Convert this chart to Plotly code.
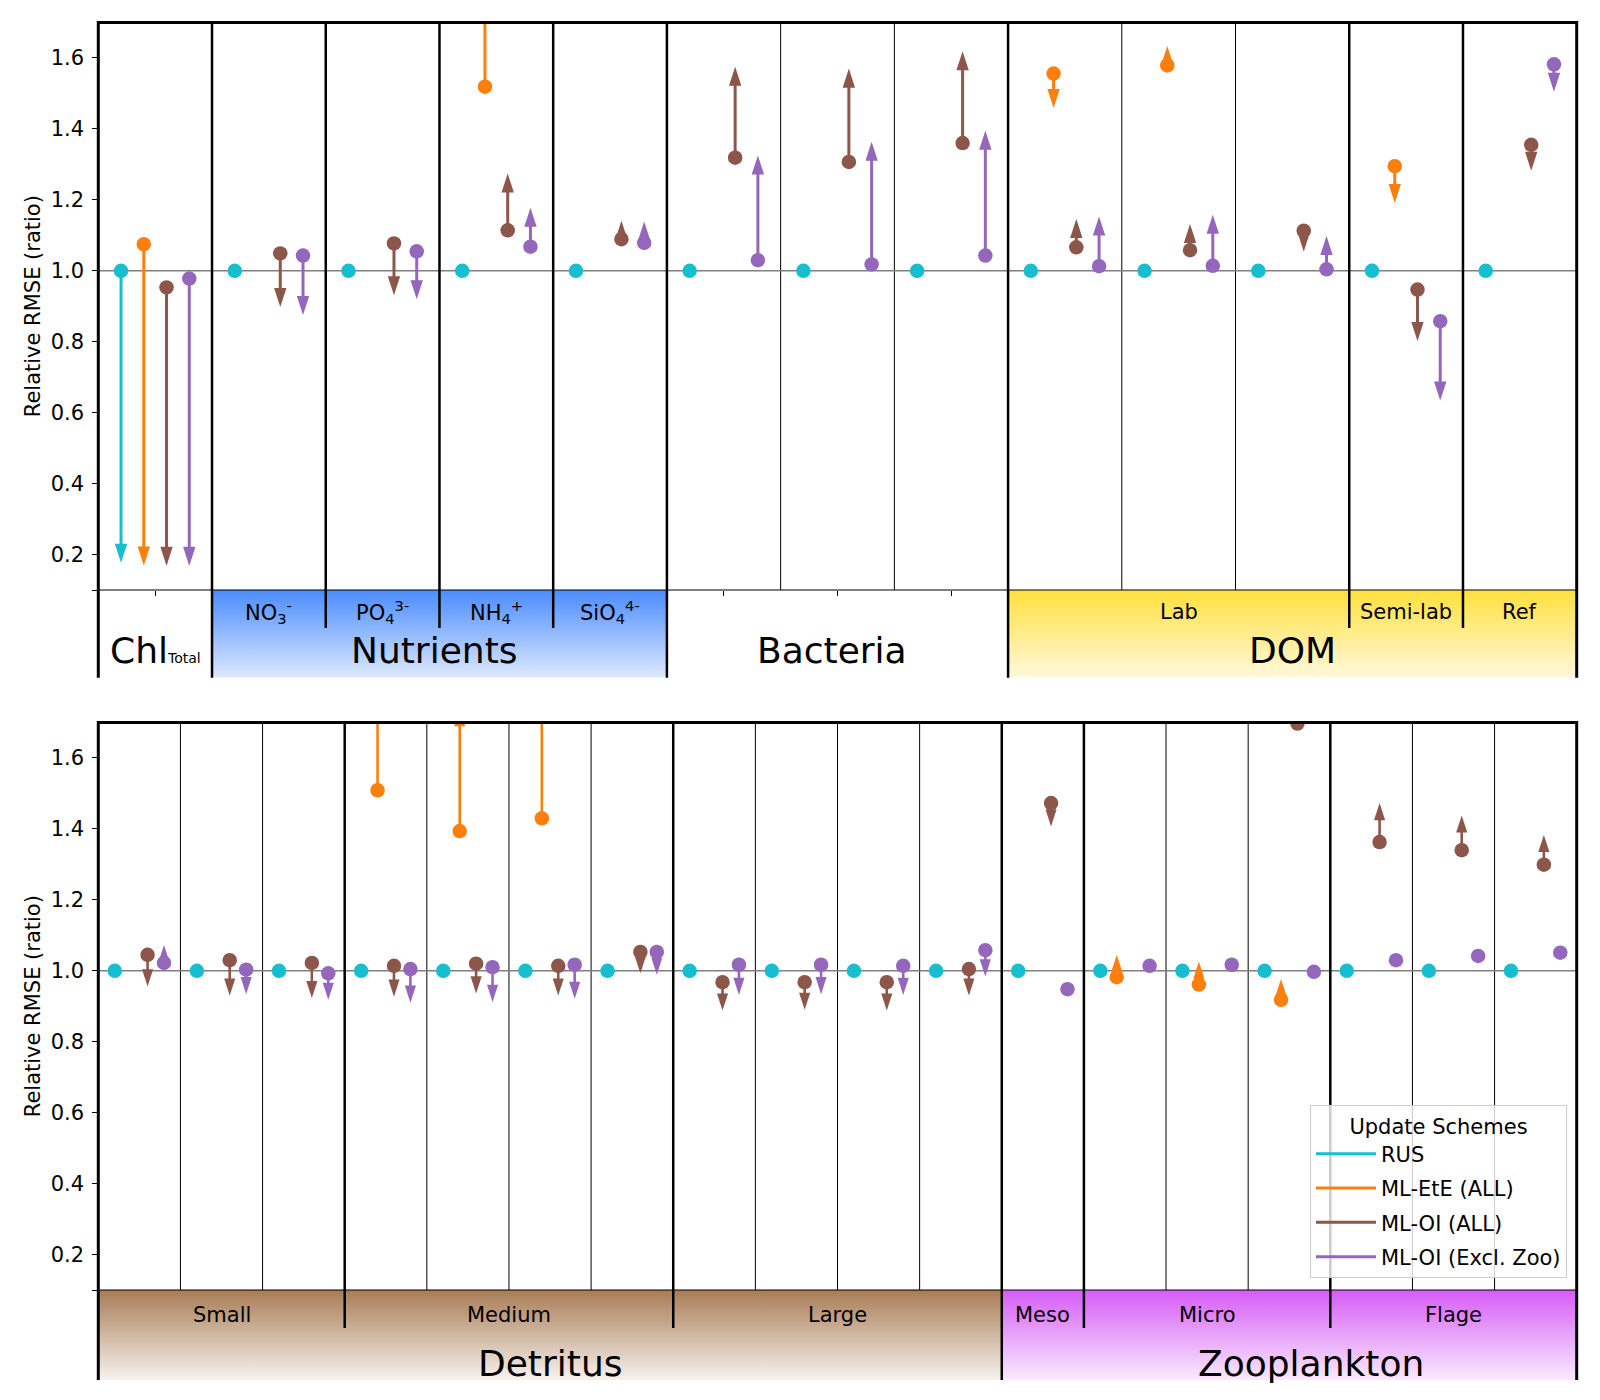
import plotly.graph_objects as go

W, H = 1600, 1400
FONT = "DejaVu Sans"

# ---------------- series ----------------
SERIES = ["RUS", "ML-EtE (ALL)", "ML-OI (ALL)", "ML-OI (Excl. Zoo)"]
SERIES_COLORS = ["#17becf", "#ff7f0e", "#8c564b", "#9467bd"]

Y_RANGE = [0.1, 1.7]
Y_TICKS = [0.2, 0.4, 0.6, 0.8, 1.0, 1.2, 1.4, 1.6]
Y_TICK_LABELS = ["0.2", "0.4", "0.6", "0.8", "1.0", "1.2", "1.4", "1.6"]
Y_TITLE = "Relative RMSE (ratio)"
REF_LEVEL = 1.0

# ---------------- top panel ----------------
TOP_GROUPS = ["Chl<span style='font-size:14px'>Total</span>", "Nutrients", "Bacteria", "DOM"]
TOP_GROUP_SIZES = [1, 4, 3, 5]
TOP_GROUP_FILLS = [None, ("#4a8cff", "#dde9ff"), None, ("#ffe03c", "#fff8dc")]
TOP_SUBGROUPS = ["", "NO<sub>3</sub><sup>-</sup>", "PO<sub>4</sub><sup>3-</sup>",
                 "NH<sub>4</sub><sup>+</sup>", "SiO<sub>4</sub><sup>4-</sup>",
                 "", "Lab", "Semi-lab", "Ref"]
TOP_SUBGROUP_SIZES = [1, 1, 1, 1, 1, 3, 3, 1, 1]

TOP_RUS_DOT = [1.0, 1.0, 1.0, 1.0, 1.0, 1.0, 1.0, 1.0, 1.0, 1.0, 1.0, 1.0, 1.0]
TOP_RUS_TIP = [0.177, None, None, None, None, None, None, None, None, None, None, None, None]
TOP_ETE_DOT = [1.075, None, None, 1.519, None, None, None, None, 1.556, 1.579, None, 1.295, None]
TOP_ETE_TIP = [0.169, None, None, 2.0, None, None, None, None, 1.459, 1.634, None, 1.191, None]
TOP_OI_DOT = [0.953, 1.049, 1.077, 1.114, 1.089, 1.319, 1.307, 1.360, 1.066, 1.058, 1.113, 0.947, 1.355]
TOP_OI_TIP = [0.168, 0.898, 0.931, 1.274, 1.141, 1.575, 1.570, 1.619, 1.146, 1.132, 1.054, 0.802, 1.282]
TOP_EXCL_DOT = [0.978, 1.043, 1.055, 1.068, 1.079, 1.030, 1.018, 1.043, 1.013, 1.014, 1.004, 0.858, 1.582]
TOP_EXCL_TIP = [0.168, 0.875, 0.920, 1.178, 1.139, 1.325, 1.364, 1.395, 1.153, 1.158, 1.098, 0.634, 1.505]

# ---------------- bottom panel ----------------
BOT_GROUPS = ["Detritus", "Zooplankton"]
BOT_GROUP_SIZES = [11, 7]
BOT_GROUP_FILLS = [("#a87c55", "#f7f2ee"), ("#d65cf6", "#f9eafd")]
BOT_SUBGROUPS = ["Small", "Medium", "Large", "Meso", "Micro", "Flage"]
BOT_SUBGROUP_SIZES = [3, 4, 4, 1, 3, 3]

BOT_RUS_DOT = [1.0, 1.0, 1.0, 1.0, 1.0, 1.0, 1.0, 1.0, 1.0, 1.0, 1.0, 1.0, 1.0, 1.0, 1.0, 1.0, 1.0, 1.0]
BOT_RUS_TIP = [None, None, None, None, None, None, None, None, None, None, None, None, None, None, None, None, None, None]
BOT_ETE_DOT = [None, None, None, 1.509, 1.394, 1.430, None, None, None, None, None, None, 0.982, 0.961, 0.918, None, None, None]
BOT_ETE_TIP = [None, None, None, 1.9, 1.738, 1.9, None, None, None, None, None, None, 1.045, 1.026, 0.977, None, None, None]
BOT_OI_DOT = [1.045, 1.030, 1.022, 1.014, 1.020, 1.014, 1.053, 0.968, 0.968, 0.968, 1.005, 1.473, None, None, 1.697, 1.363, 1.340, 1.299]
BOT_OI_TIP = [0.956, 0.930, 0.923, 0.927, 0.936, 0.930, 0.993, 0.888, 0.890, 0.888, 0.930, 1.407, None, None, None, 1.473, 1.438, 1.383]
BOT_EXCL_DOT = [1.022, 1.003, 0.993, 1.005, 1.010, 1.017, 1.053, 1.017, 1.017, 1.014, 1.058, 0.948, 1.014, 1.017, 0.997, 1.030, 1.042, 1.051]
BOT_EXCL_TIP = [1.073, 0.934, 0.918, 0.910, 0.912, 0.921, 0.989, 0.932, 0.934, 0.932, 0.984, None, None, None, None, None, None, None]

# ---------------- layout geometry (pixels) ----------------
SLOT_OFFSETS = [0.2, 0.4, 0.6, 0.8]
X_PX = (98.3, 1576.7)

PANELS = [
    dict(groups=TOP_GROUPS, gsizes=TOP_GROUP_SIZES, fills=TOP_GROUP_FILLS,
         subs=TOP_SUBGROUPS, ssizes=TOP_SUBGROUP_SIZES,
         dots=[TOP_RUS_DOT, TOP_ETE_DOT, TOP_OI_DOT, TOP_EXCL_DOT],
         tips=[TOP_RUS_TIP, TOP_ETE_TIP, TOP_OI_TIP, TOP_EXCL_TIP],
         axes=("x", "y", "x2", "y2"), ids=("", "", "2", "2"),
         data_px=(22.5, 590.0), band_bottom=677.7, sub_sep=628.0,
         sub_label=612.0, group_label=650.0, group_shift=[0, -0.045, -0.045, 0],
         head_size=20, shaft_w=3.0, legend=True),
    dict(groups=BOT_GROUPS, gsizes=BOT_GROUP_SIZES, fills=BOT_GROUP_FILLS,
         subs=BOT_SUBGROUPS, ssizes=BOT_SUBGROUP_SIZES,
         dots=[BOT_RUS_DOT, BOT_ETE_DOT, BOT_OI_DOT, BOT_EXCL_DOT],
         tips=[BOT_RUS_TIP, BOT_ETE_TIP, BOT_OI_TIP, BOT_EXCL_TIP],
         axes=("x3", "y3", "x4", "y4"), ids=("3", "3", "4", "4"),
         data_px=(722.5, 1290.0), band_bottom=1380.0, sub_sep=1328.0,
         sub_label=1315.0, group_label=1363.0, group_shift=[0, 0.27],
         head_size=18, shaft_w=2.6, legend=False),
]


def py(px):
    return 1 - px / H


def px_x(px):
    return px / W


fig = go.Figure()
shapes = []
annotations = []
layout_axes = {}

for p in PANELS:
    ncols = sum(p["gsizes"])
    xa, ya, xb, yb = p["axes"]
    top_px, bot_px = p["data_px"]
    px_per_unit = (bot_px - top_px) / (Y_RANGE[1] - Y_RANGE[0])
    head_len = 0.951 * p["head_size"] / px_per_unit

    # ---- axes
    xid = "xaxis" + p["ids"][0]
    yid = "yaxis" + p["ids"][1]
    xbid = "xaxis" + p["ids"][2]
    ybid = "yaxis" + p["ids"][3]
    layout_axes[xid] = dict(domain=[px_x(X_PX[0]), px_x(X_PX[1])], range=[0, ncols], anchor=ya,
                            tickvals=[i + 0.5 for i in range(ncols)], ticks="outside", ticklen=5,
                            tickwidth=1.2, tickcolor="black", showticklabels=False,
                            showgrid=False, zeroline=False, showline=False)
    layout_axes[yid] = dict(domain=[py(bot_px), py(top_px)], range=Y_RANGE, anchor=xa,
                            tickvals=Y_TICKS, ticktext=Y_TICK_LABELS, ticks="outside", ticklen=5,
                            tickwidth=1.2, tickcolor="black", ticklabelstandoff=4,
                            tickfont=dict(size=21, family=FONT, color="black"),
                            showgrid=False, zeroline=False, showline=False)
    layout_axes[xbid] = dict(domain=[px_x(X_PX[0]), px_x(X_PX[1])], range=[0, ncols], anchor=yb,
                             visible=False)
    layout_axes[ybid] = dict(domain=[py(p["band_bottom"]), py(bot_px)], range=[0, 1], anchor=xb,
                             tickvals=[1], ticks="outside", ticklen=5, tickwidth=1.2,
                             tickcolor="black", showticklabels=False, showgrid=False,
                             zeroline=False, showline=False)

    # ---- band gradient fills
    start = 0
    group_bounds = []
    for g, size, fill, shift in zip(p["groups"], p["gsizes"], p["fills"], p["group_shift"]):
        if fill is not None:
            fig.add_trace(go.Scatter(
                x=[start, start + size, start + size, start, start], y=[0, 0, 1, 1, 0],
                mode="lines", fill="toself",
                fillgradient=dict(type="vertical", colorscale=[[0, fill[1]], [1, fill[0]]],
                                  start=0, stop=1),
                line=dict(width=0, color="rgba(0,0,0,0)"),
                xaxis=xb, yaxis=yb, hoverinfo="skip", showlegend=False))
        annotations.append(dict(text=g, x=start + size / 2 + shift, xref=xa, y=py(p["group_label"]),
                                yref="paper", showarrow=False, xanchor="center", yanchor="middle",
                                font=dict(size=36, family=FONT, color="black")))
        start += size
        group_bounds.append(start)

    start = 0
    sub_bounds = []
    for s, size in zip(p["subs"], p["ssizes"]):
        if s:
            annotations.append(dict(text=s, x=start + size / 2, xref=xa, y=py(p["sub_label"]),
                                    yref="paper", showarrow=False, xanchor="center", yanchor="middle",
                                    font=dict(size=21, family=FONT, color="black")))
        start += size
        sub_bounds.append(start)

    # ---- reference line
    shapes.append(dict(type="line", xref=xa, yref=ya, x0=0, x1=ncols, y0=REF_LEVEL, y1=REF_LEVEL,
                       line=dict(color="#808080", width=1.5), layer="below"))

    # ---- column separators
    for b in range(1, ncols):
        if b in group_bounds:
            shapes.append(dict(type="line", xref=xa, yref="paper", x0=b, x1=b,
                               y0=py(p["band_bottom"]), y1=py(top_px),
                               line=dict(color="black", width=2.5), layer="above"))
        elif b in sub_bounds:
            shapes.append(dict(type="line", xref=xa, yref="paper", x0=b, x1=b,
                               y0=py(p["sub_sep"]), y1=py(top_px),
                               line=dict(color="black", width=2.5), layer="above"))
        else:
            shapes.append(dict(type="line", xref=xa, yref="paper", x0=b, x1=b,
                               y0=py(bot_px), y1=py(top_px),
                               line=dict(color="black", width=1), layer="below"))

    # ---- spines
    for xs in X_PX:
        shapes.append(dict(type="line", xref="paper", yref="paper", x0=px_x(xs), x1=px_x(xs),
                           y0=py(p["band_bottom"]), y1=py(top_px - 1.5),
                           line=dict(color="black", width=3), layer="above"))
    shapes.append(dict(type="line", xref="paper", yref="paper", x0=px_x(X_PX[0]), x1=px_x(X_PX[1]),
                       y0=py(top_px), y1=py(top_px), line=dict(color="black", width=3), layer="above"))
    shapes.append(dict(type="line", xref="paper", yref="paper", x0=px_x(X_PX[0]), x1=px_x(X_PX[1]),
                       y0=py(bot_px), y1=py(bot_px), line=dict(color="black", width=1.2), layer="above"))

    # ---- y title
    annotations.append(dict(text=Y_TITLE, x=33 / W, xref="paper", y=py((top_px + bot_px) / 2),
                            yref="paper", showarrow=False, textangle=-90, xanchor="center",
                            yanchor="middle", font=dict(size=21, family=FONT, color="black")))

    # ---- series: shafts, heads, dots
    for k in range(4):
        c = SERIES_COLORS[k]
        sx, sy, hx, hy, ha, dx, dy = [], [], [], [], [], [], []
        for i, (d, t) in enumerate(zip(p["dots"][k], p["tips"][k])):
            if d is None:
                continue
            x = i + SLOT_OFFSETS[k]
            dx.append(x)
            dy.append(d)
            if t is None:
                continue
            direction = 1 if t > d else -1
            end = t - direction * 0.6 * head_len
            if (end - d) * direction > 0:
                sx += [x, x, None]
                sy += [d, end, None]
            hx.append(x)
            hy.append(t)
            ha.append(0 if direction > 0 else 180)
        fig.add_trace(go.Scatter(x=sx, y=sy, mode="lines", line=dict(color=c, width=p["shaft_w"]),
                                 name=SERIES[k], legendgroup=SERIES[k], showlegend=p["legend"],
                                 xaxis=xa, yaxis=ya, hoverinfo="skip"))
        fig.add_trace(go.Scatter(x=hx, y=hy, mode="markers",
                                 marker=dict(symbol="arrow", size=p["head_size"], angle=ha, color=c,
                                             line=dict(width=0)),
                                 legendgroup=SERIES[k], showlegend=False, cliponaxis=True,
                                 xaxis=xa, yaxis=ya, hoverinfo="skip"))
        fig.add_trace(go.Scatter(x=dx, y=dy, mode="markers",
                                 marker=dict(symbol="circle", size=14.5, color=c, line=dict(width=0)),
                                 legendgroup=SERIES[k], showlegend=False, cliponaxis=True,
                                 xaxis=xa, yaxis=ya, hoverinfo="skip"))

fig.update_layout(
    width=W, height=H, margin=dict(l=0, r=0, t=0, b=0),
    paper_bgcolor="white", plot_bgcolor="white",
    font=dict(family=FONT, color="black", size=21),
    shapes=shapes, annotations=annotations, hovermode=False,
    legend=dict(x=1567 / W, xanchor="right", y=py(1278.3), yanchor="bottom",
                bgcolor="rgba(255,255,255,0.8)", bordercolor="#cccccc", borderwidth=1,
                font=dict(size=21, family=FONT, color="black"), tracegroupgap=4,
                itemwidth=60,
                title=dict(text="Update Schemes", side="top center",
                           font=dict(size=21, family=FONT, color="black"))),
    **layout_axes,
)

fig.write_html("out.html", config={"displayModeBar": False},
               post_script="document.body.style.margin='0px';")
